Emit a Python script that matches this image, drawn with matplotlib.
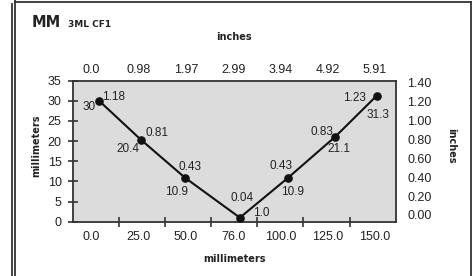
import matplotlib
matplotlib.use("Agg")
import matplotlib.pyplot as plt
from matplotlib.lines import Line2D
import numpy as np

# data
x_mm = [4, 26, 49.5, 78.5, 104, 129, 151]
depth_mm = [30, 20.4, 10.9, 1.0, 10.9, 21.1, 31.3]
depth_mm_labels = ["30", "20.4", "10.9", "1.0", "10.9", "21.1", "31.3"]
depth_in_labels = ["1.18", "0.81", "0.43", "0.04", "0.43", "0.83", "1.23"]

bottom_ticks = [0, 25, 50, 75, 100, 125, 150]
bottom_labels = ["0.0", "25.0", "50.0", "76.0", "100.0", "125.0", "150.0"]
top_labels = ["0.0", "0.98", "1.97", "2.99", "3.94", "4.92", "5.91"]
left_ticks = [0, 5, 10, 15, 20, 25, 30, 35]
right_ticks = [0.0, 0.2, 0.4, 0.6, 0.8, 1.0, 1.2, 1.4]
right_labels = ["0.00", "0.20", "0.40", "0.60", "0.80", "1.00", "1.20", "1.40"]

# label offsets in pixels (dx, dy)
in_off = [(14, 4), (16, 7), (5, 11), (2, 20), (-7, 12), (-13, 5), (-22, -2)]
mm_off = [(-10, -6), (-13, -9), (-9, -14), (21, 5), (5, -14), (4, -12), (1, -19)]

NUM = ["Liberation Sans Narrow", "Liberation Sans", "DejaVu Sans"]
TXT = "#222222"
W, H = 474, 276

fig = plt.figure(figsize=(W / 100, H / 100), dpi=100)
ax = fig.add_axes([72.7 / W, 1 - 221.7 / H, 323 / W, 141 / H])
ax.set_facecolor("#dcdcdc")

xmin, xmax = -10, 161
ax.set_xlim(xmin, xmax)
ax.set_ylim(0, 35)

ax.plot(x_mm, depth_mm, color="#111111", lw=1.5, marker="o", ms=5.2, zorder=3)

for xv, yv, lab, (dx, dy) in zip(x_mm, depth_mm, depth_in_labels, in_off):
    ax.annotate(lab, (xv, yv), xytext=(dx, dy), textcoords="offset pixels",
                ha="center", va="center", fontsize=8.5, family=NUM, color=TXT)
for xv, yv, lab, (dx, dy) in zip(x_mm, depth_mm, depth_mm_labels, mm_off):
    ax.annotate(lab, (xv, yv), xytext=(dx, dy), textcoords="offset pixels",
                ha="center", va="center", fontsize=8.5, family=NUM, color=TXT)

for s in ax.spines.values():
    s.set_color("#333333")
    s.set_linewidth(1.3)

# x: labels on major ticks (no marks), marks on minor ticks
ax.set_xticks(bottom_ticks)
ax.set_xticklabels(bottom_labels, family=NUM, fontsize=9, color=TXT)
ax.set_xticks(np.linspace(xmin, xmax, 8)[1:-1], minor=True)
ax.tick_params(axis="x", which="major", length=0, pad=7)
ax.tick_params(axis="x", which="minor", direction="inout", length=7,
               width=1.2, color="#333333", top=True, bottom=True)

ax.set_yticks(left_ticks)
ax.set_yticklabels([str(v) for v in left_ticks], family=NUM, fontsize=9, color=TXT)
ax.tick_params(axis="y", direction="inout", length=7, width=1.2,
               color="#333333", pad=4.5, right=True, labelright=False)

# top inch labels
axt = ax.twiny()
axt.set_xlim(xmin, xmax)
axt.set_xticks(bottom_ticks)
axt.set_xticklabels(top_labels, family=NUM, fontsize=9, color=TXT)
axt.tick_params(axis="x", length=0, pad=3.5)
for s in axt.spines.values():
    s.set_visible(False)

# right inch labels
axr = ax.twinx()
axr.set_ylim(-0.071, 1.421)
axr.set_yticks(right_ticks)
axr.set_yticklabels(right_labels, family=NUM, fontsize=9, color=TXT)
axr.tick_params(axis="y", length=0, pad=8.5)
for s in axr.spines.values():
    s.set_visible(False)

# axis titles
fig.text(234 / W, 1 - 259 / H, "millimeters", ha="center", va="center",
         fontsize=7, fontweight="bold", color=TXT)
fig.text(234 / W, 1 - 37 / H, "inches", ha="center", va="center",
         fontsize=7, fontweight="bold", color=TXT)
fig.text(36 / W, 1 - 146 / H, "millimeters", ha="center", va="center",
         rotation=90, fontsize=7, fontweight="bold", color=TXT)
fig.text(451 / W, 1 - 146 / H, "inches", ha="center", va="center",
         rotation=-90, fontsize=7, fontweight="bold", color=TXT)

# heading
fig.text(32 / W, 1 - 26.7 / H, "MM", ha="left", va="baseline",
         fontsize=10.5, fontweight="bold", color=TXT)
fig.text(67.7 / W, 1 - 26.7 / H, "3ML CF1", ha="left", va="baseline",
         fontsize=6.5, fontweight="bold", color=TXT)

# panel frame
frame = dict(color="#333333", lw=1.3, transform=fig.transFigure)
fig.add_artist(Line2D([11.7 / W, 11.7 / W], [0, 1 - 4 / H], **frame))
fig.add_artist(Line2D([15.3 / W, 15.3 / W], [0, 1], **frame))
fig.add_artist(Line2D([15.3 / W, 471.3 / W], [1 - 1.5 / H, 1 - 1.5 / H], **frame))
fig.add_artist(Line2D([471.3 / W, 471.3 / W], [0, 1 - 1.5 / H], **frame))

fig.savefig("out.png", dpi=100)
